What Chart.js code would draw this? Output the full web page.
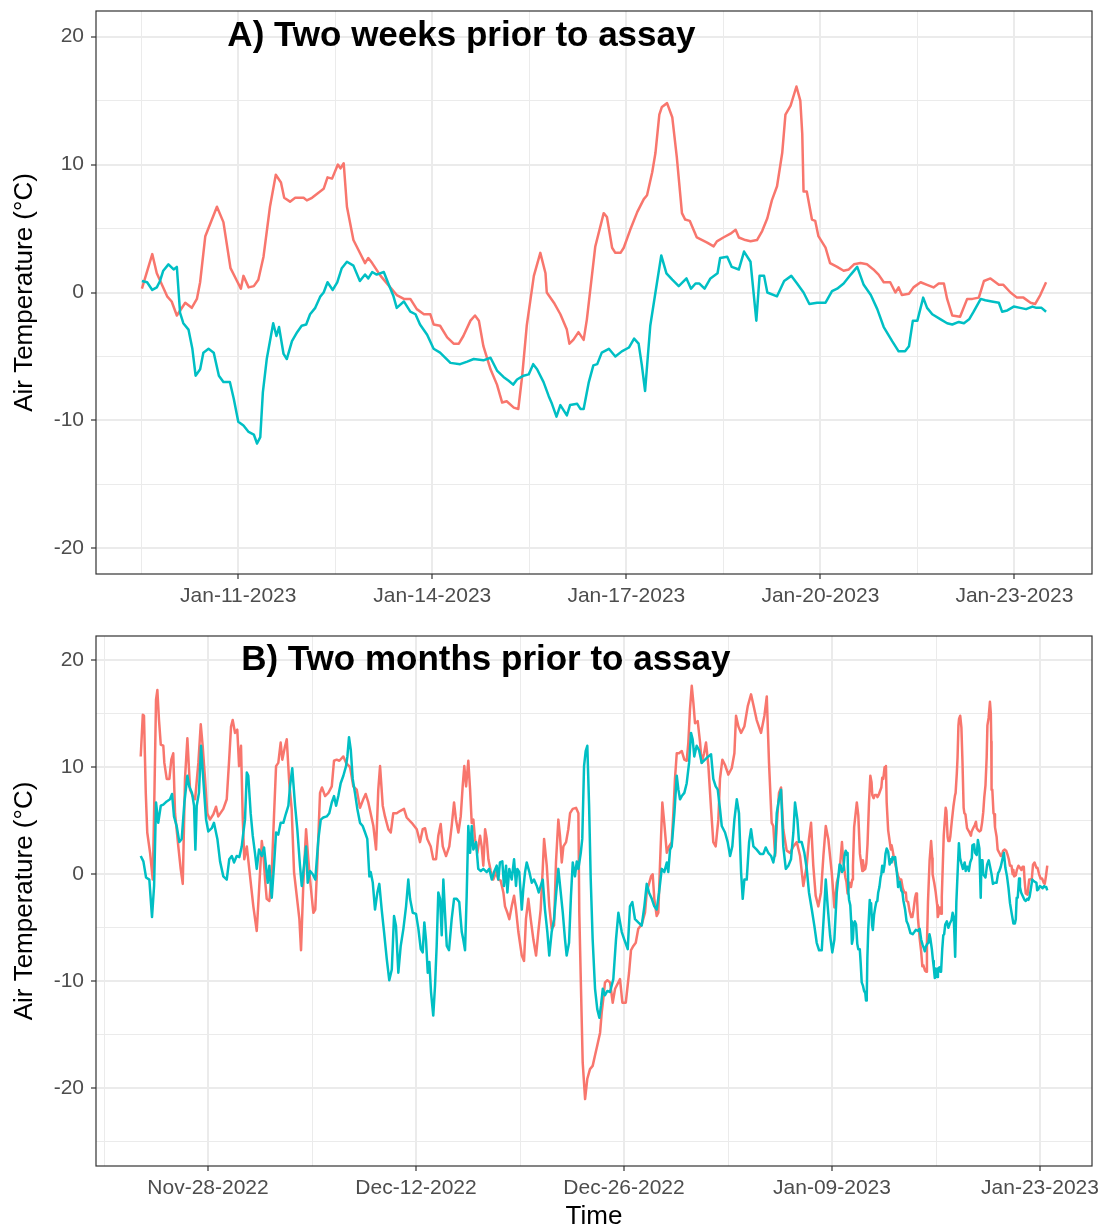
<!DOCTYPE html>
<html>
<head>
<meta charset="utf-8">
<script src="https://cdn.jsdelivr.net/npm/chart.js@4.4.0/dist/chart.umd.min.js"></script>
<style>
  body { margin: 0; background: #fff; }
  #wrap { position: relative; width: 1101px; height: 1229px; }
  canvas { position: absolute; left: 0; }
  #panelA { top: 0; }
  #panelB { top: 618px; }
</style>
</head>
<body>
<div id="wrap">
  <canvas id="panelA" width="1101" height="618"></canvas>
  <canvas id="panelB" width="1101" height="611"></canvas>
</div>
<script>
// time is in days counted from Dec-31-2022 (day 1 = Jan-01-2023, day -33 = Nov-28-2022)

// two weeks prior to assay (also the last part of the two month series)
const twoWeekRedTime = [9.51, 9.67, 9.74, 9.90, 9.97, 10.05, 10.18, 10.28, 10.36, 10.41,
  10.49, 10.67, 10.77, 10.88, 10.98, 11.04, 11.08, 11.16, 11.24, 11.31,
  11.39, 11.49, 11.58, 11.66, 11.71, 11.80, 11.88, 12.01, 12.06, 12.14,
  12.24, 12.32, 12.38, 12.45, 12.54, 12.58, 12.63, 12.68, 12.78, 12.86,
  12.96, 13.01, 13.07, 13.20, 13.35, 13.45, 13.56, 13.66, 13.76, 13.87,
  13.97, 14.02, 14.12, 14.23, 14.33, 14.41, 14.48, 14.59, 14.66, 14.72,
  14.79, 14.90, 15.00, 15.08, 15.15, 15.26, 15.33, 15.39, 15.46, 15.57,
  15.67, 15.75, 15.77, 15.88, 15.98, 16.08, 16.12, 16.18, 16.26, 16.34,
  16.39, 16.52, 16.65, 16.70, 16.78, 16.83, 16.91, 16.96, 17.06, 17.17,
  17.27, 17.32, 17.40, 17.45, 17.51, 17.55, 17.63, 17.71, 17.78, 17.86,
  17.91, 17.98, 18.09, 18.25, 18.35, 18.40, 18.50, 18.61, 18.69, 18.74,
  18.84, 18.92, 19.02, 19.10, 19.18, 19.25, 19.33, 19.41, 19.46, 19.54,
  19.63, 19.69, 19.72, 19.74, 19.79, 19.87, 19.92, 19.97, 20.08, 20.15,
  20.26, 20.36, 20.44, 20.52, 20.62, 20.72, 20.82, 20.90, 20.98, 21.08,
  21.16, 21.21, 21.26, 21.37, 21.44, 21.55, 21.65, 21.75, 21.83, 21.91,
  21.96, 22.04, 22.16, 22.27, 22.35, 22.45, 22.53, 22.63, 22.76, 22.83,
  22.94, 23.04, 23.14, 23.25, 23.32, 23.40, 23.49]
const twoWeekRedTemp = [0.3, 3.0, 1.5, -0.3, -0.7, -1.8, -0.8, -1.2, -0.5, 0.8,
  4.4, 6.7, 5.5, 1.9, 0.9, 0.3, 1.3, 0.4, 0.5, 1.0,
  2.8, 6.7, 9.2, 8.6, 7.4, 7.1, 7.4, 7.4, 7.2, 7.4,
  7.8, 8.1, 9.0, 8.9, 10.0, 9.7, 10.1, 6.7, 4.1, 3.3,
  2.3, 2.7, 2.3, 1.3, 0.4, -0.2, -0.5, -0.5, -1.3, -1.7,
  -1.7, -2.5, -2.6, -3.5, -4.0, -4.0, -3.4, -2.2, -1.8, -2.2,
  -4.2, -6.0, -7.2, -8.6, -8.5, -9.0, -9.1, -6.5, -2.6, 1.3,
  3.1, 1.5, 0.0, -0.8, -1.7, -2.9, -4.0, -3.7, -3.1, -3.7,
  -2.1, 3.6, 6.2, 5.9, 3.5, 3.1, 3.1, 3.5, 4.9, 6.3,
  7.3, 7.6, 9.4, 10.9, 13.9, 14.5, 14.8, 13.7, 10.6, 6.2,
  5.7, 5.6, 4.3, 3.9, 3.6, 4.0, 4.3, 4.6, 4.9, 4.3,
  4.1, 4.0, 4.1, 4.8, 5.8, 7.2, 8.3, 10.9, 13.9, 14.6,
  16.1, 15.0, 12.4, 7.9, 7.9, 5.7, 5.6, 4.4, 3.5, 2.3,
  2.0, 1.7, 1.8, 2.2, 2.3, 2.2, 1.8, 1.4, 0.8, 0.8,
  0.0, 0.4, -0.2, -0.1, 0.4, 0.8, 0.6, 0.4, 0.7, 0.7,
  -0.5, -1.8, -1.9, -0.5, -0.5, -0.4, 0.9, 1.1, 0.6, 0.6,
  0.0, -0.4, -0.4, -0.8, -0.9, -0.2, 0.8]
const twoWeekTealTime = [9.51, 9.59, 9.67, 9.74, 9.79, 9.84, 9.92, 10.00, 10.05, 10.10,
  10.15, 10.23, 10.29, 10.34, 10.41, 10.46, 10.54, 10.62, 10.70, 10.77,
  10.87, 10.93, 11.00, 11.08, 11.16, 11.24, 11.29, 11.34, 11.38, 11.44,
  11.54, 11.59, 11.63, 11.70, 11.75, 11.83, 11.91, 11.98, 12.05, 12.11,
  12.19, 12.27, 12.32, 12.38, 12.46, 12.53, 12.60, 12.68, 12.78, 12.88,
  12.96, 13.01, 13.07, 13.14, 13.25, 13.32, 13.40, 13.45, 13.56, 13.66,
  13.74, 13.81, 13.92, 14.02, 14.12, 14.28, 14.43, 14.54, 14.64, 14.79,
  14.90, 15.00, 15.10, 15.18, 15.25, 15.31, 15.41, 15.49, 15.56, 15.62,
  15.72, 15.80, 15.85, 15.92, 15.98, 16.08, 16.13, 16.24, 16.29, 16.34,
  16.42, 16.49, 16.55, 16.62, 16.73, 16.83, 16.93, 17.04, 17.12, 17.19,
  17.24, 17.29, 17.37, 17.45, 17.54, 17.62, 17.71, 17.81, 17.93, 18.00,
  18.07, 18.13, 18.21, 18.30, 18.41, 18.45, 18.56, 18.63, 18.74, 18.82,
  18.92, 19.01, 19.06, 19.13, 19.18, 19.33, 19.44, 19.55, 19.64, 19.74,
  19.83, 19.95, 20.08, 20.18, 20.26, 20.36, 20.47, 20.57, 20.67, 20.78,
  20.88, 20.98, 21.11, 21.21, 21.31, 21.37, 21.43, 21.50, 21.59, 21.65,
  21.73, 21.86, 21.96, 22.04, 22.14, 22.22, 22.30, 22.37, 22.48, 22.55,
  22.65, 22.76, 22.81, 22.89, 22.99, 23.09, 23.18, 23.28, 23.34, 23.42,
  23.49]
const twoWeekTealTemp = [0.9, 0.8, 0.2, 0.4, 0.9, 1.7, 2.2, 1.8, 2.0, -1.6,
  -2.4, -2.9, -4.4, -6.5, -6.0, -4.7, -4.4, -4.7, -6.5, -7.0,
  -7.0, -8.3, -10.1, -10.4, -10.9, -11.1, -11.8, -11.3, -7.8, -5.2,
  -2.4, -3.4, -2.7, -4.8, -5.2, -3.8, -3.1, -2.6, -2.5, -1.7,
  -1.2, -0.3, 0.0, 0.8, 0.2, 0.8, 1.9, 2.4, 2.1, 0.9,
  1.4, 1.1, 1.6, 1.4, 1.6, 0.7, -0.3, -1.2, -0.7, -1.5,
  -1.7, -2.5, -3.3, -4.4, -4.7, -5.5, -5.6, -5.4, -5.2, -5.3,
  -5.1, -6.1, -6.6, -6.9, -7.2, -6.8, -6.5, -6.4, -5.6, -6.0,
  -7.0, -8.1, -8.7, -9.7, -8.8, -9.6, -8.8, -8.7, -9.1, -9.1,
  -7.0, -5.7, -5.6, -4.7, -4.4, -5.0, -4.6, -4.3, -3.6, -4.0,
  -5.7, -7.7, -2.6, 0.0, 2.9, 1.5, 1.0, 0.5, 1.1, 0.3,
  0.7, 0.7, 0.3, 1.1, 1.5, 2.7, 2.8, 2.0, 1.8, 3.2,
  2.4, -2.2, 1.3, 1.3, 0.0, -0.3, 0.9, 1.3, 0.7, 0.0,
  -0.9, -0.8, -0.8, 0.1, 0.3, 0.7, 1.4, 2.0, 0.6, -0.2,
  -1.3, -2.7, -3.8, -4.6, -4.6, -4.2, -2.2, -2.2, -0.4, -1.2,
  -1.7, -2.1, -2.4, -2.5, -2.3, -2.4, -2.1, -1.5, -0.5, -0.6,
  -0.7, -0.8, -1.5, -1.4, -1.1, -1.2, -1.3, -1.1, -1.2, -1.2,
  -1.5]

// first part of the two month series (Nov-23 to Jan-09)
const earlyRedTime = [-37.53, -37.39, -37.31, -37.19, -37.09, -36.90, -36.72, -36.63, -36.50, -36.41,
  -36.30, -36.18, -36.01, -35.94, -35.78, -35.60, -35.47, -35.34, -35.22, -35.00,
  -34.84, -34.70, -34.55, -34.39, -34.21, -34.03, -33.87, -33.65, -33.49, -33.36,
  -33.20, -33.05, -32.87, -32.64, -32.46, -32.31, -31.97, -31.74, -31.59, -31.45,
  -31.34, -31.18, -31.03, -30.91, -30.78, -30.66, -30.56, -30.39, -30.17, -29.95,
  -29.72, -29.55, -29.38, -29.28, -29.16, -29.05, -28.87, -28.71, -28.56, -28.42,
  -28.27, -28.11, -28.00, -27.84, -27.70, -27.53, -27.37, -27.21, -27.03, -26.85,
  -26.74, -26.59, -26.40, -26.25, -26.09, -25.91, -25.78, -25.64, -25.46, -25.33,
  -25.12, -24.90, -24.67, -24.52, -24.34, -24.16, -23.89, -23.71, -23.44, -23.22,
  -22.99, -22.77, -22.55, -22.39, -22.21, -21.87, -21.69, -21.54, -21.42, -21.24,
  -21.09, -20.86, -20.70, -20.53, -20.30, -20.08, -19.81, -19.63, -19.29, -18.95,
  -18.73, -18.55, -18.39, -18.24, -18.01, -17.84, -17.65, -17.50, -17.34, -17.20,
  -16.98, -16.76, -16.60, -16.44, -16.31, -16.15, -15.99, -15.86, -15.75, -15.63,
  -15.48, -15.36, -15.25, -15.14, -15.03, -14.87, -14.69, -14.58, -14.47, -14.35,
  -14.24, -14.13, -13.97, -13.80, -13.61, -13.46, -13.30, -13.12, -13.01, -12.85,
  -12.72, -12.56, -12.40, -12.27, -12.11, -11.88, -11.73, -11.60, -11.44, -11.28,
  -11.10, -10.92, -10.77, -10.61, -10.47, -10.38, -10.20, -10.03, -9.87, -9.71,
  -9.58, -9.42, -9.31, -9.19, -9.08, -8.90, -8.75, -8.63, -8.45, -8.23,
  -8.07, -8.01, -7.91, -7.78, -7.62, -7.47, -7.29, -7.11, -6.95, -6.80,
  -6.61, -6.50, -6.39, -6.28, -6.12, -5.94, -5.76, -5.60, -5.27, -5.11,
  -4.88, -4.66, -4.53, -4.37, -4.21, -4.04, -3.81, -3.59, -3.47, -3.36,
  -3.18, -3.07, -2.96, -2.80, -2.69, -2.58, -2.42, -2.29, -2.12, -1.97,
  -1.79, -1.68, -1.57, -1.45, -1.30, -1.11, -0.94, -0.78, -0.67, -0.56,
  -0.44, -0.33, -0.22, -0.04, 0.12, 0.23, 0.39, 0.52, 0.68, 0.86,
  1.01, 1.17, 1.35, 1.46, 1.62, 1.80, 2.02, 2.25, 2.43, 2.54,
  2.70, 2.88, 3.10, 3.33, 3.55, 3.71, 3.93, 4.22, 4.45, 4.61,
  4.76, 4.94, 5.05, 5.17, 5.28, 5.43, 5.57, 5.72, 5.95, 6.18,
  6.40, 6.63, 6.85, 7.07, 7.30, 7.45, 7.59, 7.74, 7.90, 8.08,
  8.26, 8.42, 8.58, 8.75, 8.98, 9.16, 9.32]
const earlyRedTemp = [11.0, 14.9, 14.8, 7.6, 3.9, 2.0, -0.5, 5.7, 16.3, 17.2,
  14.4, 12.1, 12.0, 10.4, 8.9, 8.9, 10.7, 11.3, 5.7, 2.6,
  0.5, -0.9, 8.9, 12.7, 7.9, 7.3, 7.0, 10.4, 14.0, 12.0,
  8.9, 5.7, 5.1, 5.6, 6.3, 5.4, 6.1, 7.0, 10.4, 13.8,
  14.4, 13.2, 13.5, 10.1, 12.0, 5.1, 1.4, 2.6, -0.2, -3.0,
  -5.3, -1.1, 3.1, 2.0, -0.5, -2.3, -2.5, 0.2, 5.4, 10.1,
  10.4, 12.3, 10.7, 11.8, 12.6, 8.5, 6.1, 0.2, -2.0, -4.2,
  -7.1, -1.1, 4.2, 1.4, -1.1, -3.6, -3.3, 1.1, 7.6, 8.1,
  7.3, 7.6, 8.2, 10.6, 10.7, 10.6, 11.0, 10.4, 10.0, 8.2,
  7.9, 6.2, 7.0, 7.5, 6.7, 4.5, 2.3, 7.9, 10.1, 6.4,
  5.4, 4.2, 3.9, 5.7, 5.7, 5.9, 6.1, 5.3, 4.8, 4.2,
  3.0, 4.2, 4.3, 3.3, 2.6, 1.4, 1.4, 3.6, 4.7, 2.6,
  1.7, 2.6, 4.5, 6.7, 5.1, 3.9, 5.4, 8.2, 10.1, 8.2,
  10.6, 7.9, 4.8, 5.1, 3.3, 2.0, 3.6, 2.6, 0.8, 4.2,
  3.3, 1.4, 0.3, -0.5, 0.2, -0.5, -0.6, -1.7, -3.0, -3.6,
  -4.2, -3.0, -2.0, -3.3, -5.4, -7.6, -8.1, -4.2, -2.3, -4.2,
  -6.1, -7.6, -5.4, -3.3, 0.5, 3.3, 0.8, -3.0, -5.1, -4.8,
  1.1, 5.1, 3.6, 1.1, 2.6, 3.0, 4.2, 5.7, 6.1, 6.2,
  5.7, -3.6, -9.8, -17.6, -21.0, -19.1, -18.2, -17.9, -16.9, -16.0,
  -14.8, -12.9, -11.6, -10.1, -9.9, -10.1, -12.0, -10.7, -9.8, -12.0,
  -12.0, -9.2, -7.1, -6.7, -6.4, -5.1, -4.7, -3.6, -1.7, -1.1,
  -0.2, 0.0, -2.3, -3.9, -3.6, 0.8, 6.7, 4.8, 2.0, 2.6,
  3.0, 5.7, 8.9, 11.3, 11.3, 11.5, 10.7, 10.6, 12.3, 15.4,
  17.6, 16.0, 14.1, 14.3, 12.3, 10.4, 11.3, 12.3, 10.1, 6.1,
  3.0, 2.6, 5.1, 8.9, 10.7, 10.2, 9.3, 9.9, 11.3, 14.8,
  13.8, 13.2, 13.8, 15.7, 16.8, 15.8, 14.4, 13.2, 14.8, 16.6,
  10.4, 4.8, 4.5, 1.7, 4.5, 7.6, 8.1, 4.2, 2.2, 2.0,
  2.6, 3.0, 1.7, -1.1, 0.8, 3.3, 4.8, 0.8, -2.0, -3.0,
  -1.7, 1.7, 4.5, 3.3, 0.2, -3.1, -0.8]
const earlyTealTime = [-37.53, -37.35, -37.17, -36.95, -36.77, -36.63, -36.50, -36.35, -36.18, -36.01,
  -35.78, -35.56, -35.42, -35.29, -35.11, -34.93, -34.77, -34.59, -34.39, -34.26,
  -34.08, -33.94, -33.85, -33.76, -33.61, -33.47, -33.32, -33.13, -32.98, -32.75,
  -32.60, -32.37, -32.19, -31.97, -31.74, -31.57, -31.40, -31.25, -31.07, -30.89,
  -30.73, -30.62, -30.51, -30.39, -30.29, -30.13, -29.99, -29.84, -29.72, -29.57,
  -29.38, -29.23, -29.10, -28.98, -28.87, -28.71, -28.56, -28.42, -28.27, -28.11,
  -27.93, -27.77, -27.59, -27.48, -27.33, -27.14, -26.99, -26.81, -26.69, -26.54,
  -26.40, -26.29, -26.13, -25.95, -25.78, -25.57, -25.41, -25.24, -25.01, -24.84,
  -24.67, -24.52, -24.38, -24.23, -24.07, -23.89, -23.71, -23.62, -23.51, -23.39,
  -23.26, -23.11, -22.95, -22.77, -22.59, -22.43, -22.28, -22.14, -22.05, -21.91,
  -21.76, -21.60, -21.47, -21.31, -21.15, -20.97, -20.80, -20.63, -20.48, -20.35,
  -20.19, -20.03, -19.85, -19.67, -19.52, -19.40, -19.22, -19.00, -18.84, -18.68,
  -18.55, -18.44, -18.33, -18.21, -18.10, -17.99, -17.84, -17.72, -17.61, -17.50,
  -17.38, -17.27, -17.16, -17.05, -16.93, -16.78, -16.60, -16.44, -16.26, -16.09,
  -15.92, -15.82, -15.70, -15.59, -15.48, -15.36, -15.25, -15.14, -14.96, -14.81,
  -14.64, -14.47, -14.24, -14.07, -13.90, -13.75, -13.57, -13.46, -13.35, -13.19,
  -13.08, -12.94, -12.85, -12.72, -12.56, -12.40, -12.27, -12.18, -12.05, -11.88,
  -11.78, -11.66, -11.55, -11.37, -11.21, -11.06, -10.87, -10.74, -10.61, -10.47,
  -10.32, -10.16, -10.03, -9.87, -9.71, -9.58, -9.42, -9.26, -9.12, -8.97,
  -8.86, -8.70, -8.57, -8.45, -8.30, -8.18, -8.07, -7.91, -7.81, -7.69,
  -7.58, -7.47, -7.35, -7.24, -7.11, -6.95, -6.80, -6.66, -6.55, -6.43,
  -6.28, -6.12, -5.94, -5.72, -5.54, -5.38, -5.15, -4.98, -4.75, -4.60,
  -4.44, -4.26, -4.04, -3.81, -3.63, -3.47, -3.32, -3.13, -2.96, -2.80,
  -2.64, -2.46, -2.29, -2.12, -2.02, -1.90, -1.79, -1.61, -1.45, -1.34,
  -1.23, -1.11, -0.94, -0.78, -0.62, -0.49, -0.38, -0.27, -0.11, 0.05,
  0.23, 0.45, 0.68, 0.86, 1.01, 1.17, 1.31, 1.46, 1.58, 1.80,
  1.98, 2.14, 2.29, 2.43, 2.59, 2.74, 2.88, 2.99, 3.10, 3.26,
  3.42, 3.55, 3.71, 3.93, 4.16, 4.38, 4.54, 4.71, 4.90, 5.05,
  5.17, 5.28, 5.43, 5.57, 5.72, 5.89, 6.06, 6.24, 6.40, 6.51,
  6.67, 6.78, 6.96, 7.14, 7.30, 7.45, 7.64, 7.81, 7.97, 8.13,
  8.31, 8.46, 8.58, 8.71, 8.87, 9.02, 9.16, 9.32]
const earlyTealTemp = [1.7, 1.2, -0.3, -0.5, -4.0, -1.1, 6.7, 4.8, 6.4, 6.5,
  6.8, 7.0, 7.5, 5.4, 4.5, 3.0, 3.3, 6.7, 9.2, 8.2,
  7.6, 6.4, 2.3, 6.4, 7.6, 12.0, 8.9, 5.1, 4.0, 4.3,
  4.8, 3.3, 1.2, -0.2, -0.5, 1.4, 1.7, 1.1, 1.7, 1.6,
  2.6, 3.9, 5.1, 9.5, 9.2, 5.7, 3.6, 2.0, 0.5, 2.3,
  1.7, 2.5, 0.8, -0.8, 0.8, -2.2, 0.8, 3.9, 3.7, 4.8,
  4.8, 5.6, 6.4, 8.2, 9.9, 6.4, 4.2, 0.8, -1.1, 0.8,
  2.6, -0.8, 0.3, 0.0, -0.5, 3.3, 5.1, 5.3, 5.4, 5.7,
  6.7, 7.3, 6.4, 7.3, 8.5, 9.2, 10.1, 11.0, 12.8, 11.6,
  8.9, 7.6, 6.1, 4.8, 4.5, 3.9, 3.3, -0.2, 0.2, -0.8,
  -3.3, -1.7, -0.9, -3.3, -5.4, -7.9, -9.9, -8.9, -3.9, -4.8,
  -9.2, -6.7, -5.1, -3.0, -0.5, -2.3, -3.6, -3.7, -5.1, -7.0,
  -7.3, -4.5, -6.1, -9.2, -8.2, -11.0, -13.2, -10.4, -6.7, -1.7,
  -2.3, -5.7, -0.5, -3.6, -6.7, -7.1, -4.2, -2.3, -2.3, -2.6,
  -5.4, -6.1, -7.1, -2.0, 4.5, 2.0, 4.5, 2.3, 3.0, 0.5,
  0.3, 0.5, 0.2, 0.5, -0.5, 0.2, 0.8, -0.5, 1.1, 1.2,
  -1.1, 0.8, -1.7, 0.5, -0.5, 1.4, -1.1, 0.5, 0.2, -3.3,
  -1.4, 0.2, 1.1, 0.2, -0.8, -0.5, -1.1, -1.7, -1.1, -0.5,
  -3.3, -5.4, -7.6, -5.4, -4.2, -2.0, 0.5, -1.7, -3.6, -6.1,
  -7.6, -6.4, -2.0, 1.1, -0.2, 1.2, 0.5, 2.0, 3.3, 10.1,
  11.5, 12.0, 6.4, -0.5, -6.1, -10.7, -12.6, -13.4, -12.3, -10.7,
  -11.3, -10.9, -11.0, -9.8, -6.1, -3.6, -5.4, -6.1, -7.0, -3.0,
  -2.6, -4.2, -4.5, -4.8, -3.0, -0.9, -1.7, -2.3, -3.0, -3.3,
  -1.7, 0.5, 0.2, 1.1, 0.2, 2.3, 2.6, 5.7, 9.2, 7.9,
  7.0, 7.3, 7.6, 8.5, 10.4, 13.2, 12.6, 11.0, 12.0, 11.6,
  10.4, 10.7, 11.0, 11.2, 8.9, 8.2, 7.9, 6.1, 4.5, 3.9,
  3.0, 1.7, 2.6, 5.1, 7.0, 5.7, 0.2, -2.3, -0.5, -0.5,
  3.0, 4.2, 2.6, 2.3, 1.9, 1.9, 2.5, 2.0, 1.7, 1.1,
  2.0, 5.7, 7.0, 7.9, 2.6, 0.5, 0.8, 1.4, 3.9, 6.7,
  5.1, 3.0, 3.0, 2.0, 0.5, -1.7, -3.3, -4.8, -6.4, -7.1,
  -7.1, -3.6, -0.5, -3.0, -5.7, -7.3, -6.1, -1.7]

// axis breaks (labelled ones get a date, the others are minor grid lines)
const weekTicks = [9.5, 11, 12.5, 14, 15.5, 17, 18.5, 20, 21.5, 23]
const weekLabelled = [11, 14, 17, 20, 23]
const monthTicks = [-40, -33, -26, -19, -12, -5, 2, 9, 16, 23]
const monthLabelled = [-33, -19, -5, 9, 23]
const tempTicksA = [-20, -15, -10, -5, 0, 5, 10, 15, 20]
const tempTicksB = [-25, -20, -15, -10, -5, 0, 5, 10, 15, 20]

const red = '#F8766D'
const teal = '#00BFC4'
const font = '"Liberation Sans", Arial, Helvetica, sans-serif'
const months = ['Jan', 'Feb', 'Mar', 'Apr', 'May', 'Jun', 'Jul', 'Aug', 'Sep', 'Oct', 'Nov', 'Dec']

function dateLabel(day) {
  const d = new Date(2023, 0, day)
  return months[d.getMonth()] + '-' + String(d.getDate()).padStart(2, '0') + '-' + d.getFullYear()
}

function points(times, temps) {
  return times.map((t, i) => ({x: t, y: temps[i]}))
}

// panel border + the "A)" / "B)" text placed at data coordinates
const panelFrame = {
  id: 'panelFrame',
  afterDraw(chart, args, opts) {
    const {ctx, chartArea: area, scales} = chart
    ctx.save()
    ctx.strokeStyle = '#333333'
    ctx.lineWidth = 1.2
    ctx.strokeRect(area.left, area.top, area.width, area.height)
    ctx.font = 'bold 35px ' + font
    ctx.fillStyle = '#000'
    ctx.textAlign = 'center'
    ctx.textBaseline = 'middle'
    ctx.fillText(opts.text, scales.x.getPixelForValue(opts.x), scales.y.getPixelForValue(opts.y))
    ctx.restore()
  }
}

function makeChart(canvas, cfg) {
  const isMajor = (list, v) => list.includes(v)
  return new Chart(canvas, {
    type: 'line',
    data: {
      datasets: [
        { data: points(cfg.redTime, cfg.redTemp), borderColor: red, order: 2 },
        { data: points(cfg.tealTime, cfg.tealTemp), borderColor: teal, order: 1 }
      ]
    },
    options: {
      responsive: false,
      animation: false,
      layout: { padding: { top: cfg.padTop, right: 9, left: 0, bottom: 0 } },
      elements: {
        line: { borderWidth: 2.5, tension: 0, fill: false, borderJoinStyle: 'round' },
        point: { radius: 0 }
      },
      plugins: {
        legend: { display: false },
        tooltip: { enabled: false },
        panelFrame: { text: cfg.title, x: cfg.titleX, y: 20 }
      },
      scales: {
        x: {
          type: 'linear',
          min: cfg.xMin,
          max: cfg.xMax,
          afterBuildTicks: s => { s.ticks = cfg.xTicks.map(v => ({value: v})) },
          afterFit: s => {
            s.height = cfg.xAxisHeight
            s.paddingLeft = 0
            s.paddingRight = 0
          },
          ticks: {
            autoSkip: false,
            maxRotation: 0,
            padding: 5,
            color: '#4D4D4D',
            font: { family: font, size: 21 },
            callback: v => isMajor(cfg.xLabelled, v) ? dateLabel(v) : ''
          },
          grid: {
            color: '#EBEBEB',
            lineWidth: c => isMajor(cfg.xLabelled, c.tick.value) ? 2 : 1,
            tickColor: c => isMajor(cfg.xLabelled, c.tick.value) ? '#333333' : 'rgba(0,0,0,0)',
            tickLength: 5,
            tickWidth: 1.2
          },
          border: { display: false },
          title: {
            display: cfg.showTime,
            text: 'Time',
            color: '#000',
            font: { family: font, size: 26, lineHeight: 0.9 },
            padding: { top: 0, bottom: 0 }
          }
        },
        y: {
          min: cfg.yMin,
          max: cfg.yMax,
          afterBuildTicks: s => { s.ticks = cfg.yTicks.map(v => ({value: v})) },
          afterFit: s => {
            s.width = 96
            s.paddingTop = 0
            s.paddingBottom = 0
          },
          ticks: {
            padding: 7,
            color: '#4D4D4D',
            font: { family: font, size: 21 },
            callback: v => v % 10 === 0 ? v : ''
          },
          grid: {
            color: '#EBEBEB',
            lineWidth: c => c.tick.value % 10 === 0 ? 2 : 1,
            tickColor: c => c.tick.value % 10 === 0 ? '#333333' : 'rgba(0,0,0,0)',
            tickLength: 5,
            tickWidth: 1.2
          },
          border: { display: false },
          title: {
            display: true,
            text: 'Air Temperature (°C)',
            color: '#000',
            font: { family: font, size: 26 },
            padding: { top: 9, bottom: 0 }
          }
        }
      }
    },
    plugins: [panelFrame]
  })
}

makeChart(document.getElementById('panelA'), {
  redTime: twoWeekRedTime, redTemp: twoWeekRedTemp,
  tealTime: twoWeekTealTime, tealTemp: twoWeekTealTemp,
  xMin: 8.8, xMax: 24.2, xTicks: weekTicks, xLabelled: weekLabelled,
  yMin: -22, yMax: 22, yTicks: tempTicksA,
  padTop: 11, xAxisHeight: 44, showTime: false,
  title: 'A) Two weeks prior to assay', titleX: 14.45
})

makeChart(document.getElementById('panelB'), {
  redTime: earlyRedTime.concat(twoWeekRedTime), redTemp: earlyRedTemp.concat(twoWeekRedTemp),
  tealTime: earlyTealTime.concat(twoWeekTealTime), tealTemp: earlyTealTemp.concat(twoWeekTealTemp),
  xMin: -40.54, xMax: 26.5, xTicks: monthTicks, xLabelled: monthLabelled,
  yMin: -27.25, yMax: 22.25, yTicks: tempTicksB,
  padTop: 18, xAxisHeight: 63, showTime: true,
  title: 'B) Two months prior to assay', titleX: -14.3
})
</script>
</body>
</html>
